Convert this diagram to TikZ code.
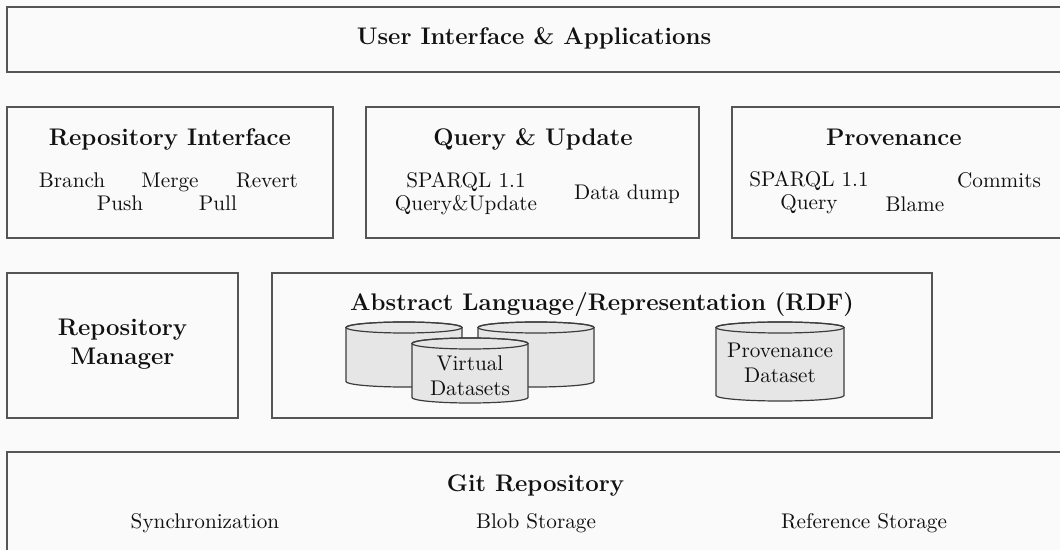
\documentclass[tikz,border=0pt]{standalone}
\usepackage{fontspec}
\definecolor{bg}{HTML}{FAFAFA}
\definecolor{linec}{HTML}{555555}
\definecolor{cylf}{HTML}{E6E6E6}
\definecolor{txt}{HTML}{111111}
\newcommand\dbcyl[4]{% centre x, half width (px), top ellipse y, bottom ellipse y
  \filldraw[cyl] ({#1-#2},#3) -- ({#1-#2},#4)
    arc[start angle=180,end angle=360,x radius={#2*0.5pt},y radius=2.75pt]
    -- ({#1+#2},#3)
    arc[start angle=0,end angle=180,x radius={#2*0.5pt},y radius=2.75pt] -- cycle;
  \draw[cyl,fill=none] (#1,#3) ellipse[x radius={#2*0.5pt},y radius=2.75pt];}
\tikzset{
  box/.style={draw=linec,line width=0.6pt,inner sep=0pt},
  ttl/.style={font=\fontsize{12}{14.5}\selectfont\bfseries,anchor=base,inner sep=0pt,text=txt,align=center},
  itm/.style={font=\fontsize{10.6}{11.5}\selectfont,anchor=base,inner sep=0pt,text=txt,align=center},
  cyl/.style={draw=linec!70!black,fill=cylf,line width=0.6pt},
}
\begin{document}
\begin{tikzpicture}[x=0.5pt,y=-0.5pt]
\useasboundingbox (0,0) rectangle (1060,550);
\clip (0,0) rectangle (1060,550);
\fill[bg] (0,0) rectangle (1060,550);

% boxes
\node[box,minimum width=528.5pt,minimum height=32.5pt] (ui) at (535.5,39.5) {};
\node[box,minimum width=163pt,minimum height=65.5pt] (ri) at (170,172.5) {};
\node[box,minimum width=166.5pt,minimum height=65.5pt] (qu) at (532.5,172.5) {};
\node[box,minimum width=169pt,minimum height=65.5pt] (pv) at (901,172.5) {};
\node[box,minimum width=115.5pt,minimum height=72.5pt] (rm) at (122.5,345.5) {};
\node[box,minimum width=330pt,minimum height=72.5pt] (al) at (602,345.5) {};
\node[box,minimum width=531.5pt,minimum height=54pt] (git) at (538.5,506) {};

% row 1
\node[ttl] (uit) at (534,45) {User Interface \& Applications};

% repository interface
\node[ttl] (rit) at (170,146) {Repository Interface};
\node[itm] (branch) at (72,188) {Branch};
\node[itm] (merge) at (170,188) {Merge};
\node[itm] (revert) at (267,188) {Revert};
\node[itm] (push) at (120,211) {Push};
\node[itm] (pull) at (218,211) {Pull};

% query & update
\node[ttl] (qut) at (533,146) {Query \& Update};
\node[itm] (qusp) at (466,211) {SPARQL 1.1\\Query\&Update};
\node[itm] (dump) at (627,200) {Data dump};

% provenance
\node[ttl] (pvt) at (894,146) {Provenance};
\node[itm] (pvsp) at (809,210) {SPARQL 1.1\\Query};
\node[itm] (blame) at (915,212) {Blame};
\node[itm] (commits) at (999,188) {Commits};

% repository manager
\node[ttl] (rmt) at (122.5,365) {Repository\\[0.3pt]Manager};

% abstract language
\node[ttl] (alt) at (602,311) {Abstract Language/Representation (RDF)};
\dbcyl{404}{58}{327.5}{381.5}
\dbcyl{536}{58}{327.5}{381.5}
\dbcyl{470}{58}{343.5}{397.5}
\dbcyl{780}{64}{327.5}{395.5}
\node[itm,font=\fontsize{10.6}{13}\selectfont] (vd) at (470,396) {Virtual\\Datasets};
\node[itm,font=\fontsize{10.6}{12.5}\selectfont] (pd) at (780,383) {Provenance\\Dataset};

% git repository
\node[ttl] (gitt) at (535.5,491) {Git Repository};
\node[itm] (sync) at (205,528) {Synchronization};
\node[itm] (blob) at (536,528) {Blob Storage};
\node[itm] (refs) at (864,528) {Reference Storage};
\end{tikzpicture}
\end{document}
